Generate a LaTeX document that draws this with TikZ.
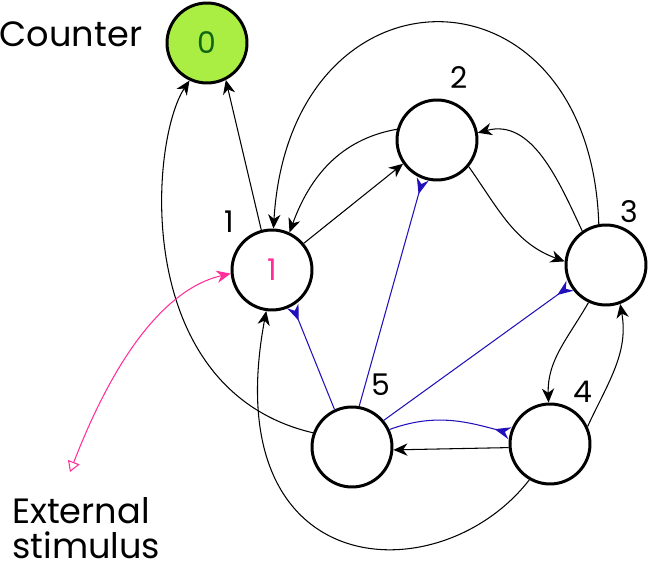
\documentclass[tikz,border=0pt]{standalone}
\usepackage{fontspec}
\setmainfont{Poppins}
\usetikzlibrary{arrows.meta}
\definecolor{cgreen}{HTML}{AAEE44}
\definecolor{dgreen}{HTML}{116611}
\definecolor{cpink}{HTML}{FF2E9A}
\definecolor{cblue}{HTML}{2211BB}
\begin{document}
\begin{tikzpicture}[x=0.02cm,y=-0.02cm,
  neuron/.style={circle,draw=black,line width=1.7pt,minimum size=1.6cm,inner sep=0pt,fill=white},
  lbl/.style={font=\fontsize{17}{17}\selectfont,inner sep=0pt},
  big/.style={font=\fontsize{20}{20}\selectfont,inner sep=0pt,align=left},
  exc/.style={line width=0.6pt,-{Stealth[length=8pt,width=7pt,inset=2.5pt]}},
  inh/.style={cblue,line width=0.6pt,-{Stealth[length=9pt,width=7pt,inset=3pt,reversed]}},
  stim/.style={cpink,line width=0.6pt,{Triangle[open,length=6pt,width=7pt]}-{Stealth[length=8pt,width=7pt,inset=2.5pt]}}]
\useasboundingbox (0,0) rectangle (650,573);
\node[neuron,fill=cgreen] (c) at (207,43) {\color{dgreen}\fontsize{17}{17}\selectfont 0};
\node[neuron] (n1) at (272,270) {\color{cpink}\fontsize{17}{17}\selectfont 1};
\node[neuron] (n2) at (437,140) {};
\node[neuron] (n3) at (606,265) {};
\node[neuron] (n4) at (550,444) {};
\node[neuron] (n5) at (352,447) {};
\node[big] (tc) at (71,34) {Counter};
\node[big,anchor=north west] (ts) at (12,497) {External\\stimulus};
\node[lbl] (l1) at (229,222) {1};
\node[lbl] (l2) at (459,78) {2};
\node[lbl] (l3) at (629,212) {3};
\node[lbl] (l4) at (583,392) {4};
\node[lbl] (l5) at (381,385) {5};
\coordinate (s0) at (70,472);
% black connectors
\draw[exc] (n1.105) -- (c.-63);
\draw[exc] (n5.160) .. controls (130,390) and (150,140) .. (c.-115);
\draw[exc] (n1.40) -- (n2.215);
\draw[exc] (n2.165) to[out=190,in=70] (n1.65);
\draw[exc] (n3.100) .. controls (590,-45) and (290,-45) .. (n1.88);
\draw[exc] (n3.125) to[out=115,in=15] (n2.10);
\draw[exc] (n2.-40) to[out=-55,in=160] (n3.175);
\draw[exc] (n3.-115) to[out=-120,in=92] (n4.92);
\draw[exc] (n4.25) to[out=65,in=-80] (n3.-70);
\draw[exc] (n4.185) -- (n5.-4);
\draw[exc] (n4.-120) .. controls (440,595) and (215,585) .. (n1.-98);
% blue connectors
\draw[inh] (n5.115) -- (n1.-60);
\draw[inh] (n5.80) -- (n2.-110);
\draw[inh] (n5.40) -- (n3.-150);
\draw[inh] (n5.25) to[out=20,in=165] (n4.165);
% stimulus
\draw[stim] (s0) .. controls (125,330) and (180,285) .. (n1.185);
\end{tikzpicture}
\end{document}
